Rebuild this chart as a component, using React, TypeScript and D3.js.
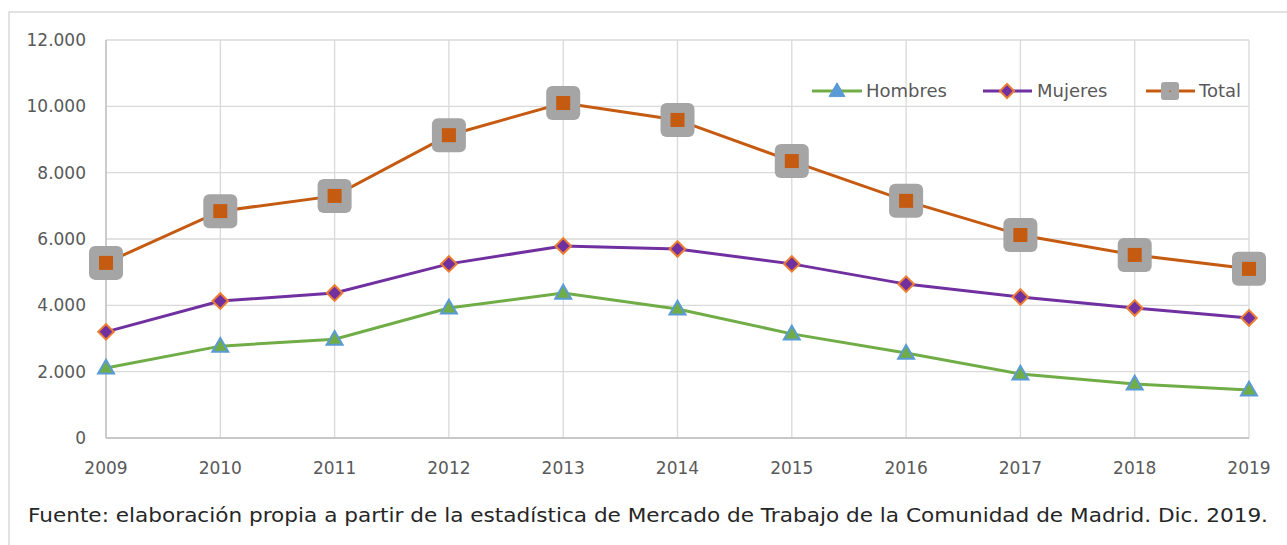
import React from 'react';
import * as d3 from 'd3';

const years = [2009, 2010, 2011, 2012, 2013, 2014, 2015, 2016, 2017, 2018, 2019];
const hombres = [2110, 2770, 2980, 3920, 4370, 3890, 3140, 2560, 1930, 1630, 1450];
const mujeres = [3200, 4130, 4370, 5250, 5790, 5700, 5250, 4640, 4250, 3920, 3620];
const total = [5280, 6840, 7300, 9130, 10100, 9590, 8350, 7150, 6120, 5520, 5100];
const yTicks = [0, 2000, 4000, 6000, 8000, 10000, 12000];
const source =
  'Fuente: elaboración propia a partir de la estadística de Mercado de Trabajo de la Comunidad de Madrid. Dic. 2019.';

const width = 1287;
const height = 545;
const font = '"DejaVu Sans", sans-serif';

const fmt = (v: number) => (v === 0 ? '0' : d3.format(',')(v).replace(/,/g, '.'));

const App = () => {
  const x = d3.scalePoint<number>().domain(years).range([106, 1249]);
  const y = d3.scaleLinear().domain([0, 12000]).range([438, 40]);

  const line = d3
    .line<number>()
    .x((_, i) => x(years[i]) as number)
    .y((d) => y(d));

  const tri = d3.symbol().type(d3.symbolTriangle).size(110)() || undefined;

  return (
    <svg
      width={width}
      height={height}
      style={{ position: 'absolute', left: 0, top: 0, background: '#fff' }}
    >
      {/* chart frame */}
      <rect x={9} y={12} width={1300} height={560} fill="none" stroke="#d9d9d9" strokeWidth={1.5} />

      {/* grid */}
      {yTicks.map((t) => (
        <line key={t} x1={106} x2={1249} y1={y(t)} y2={y(t)} stroke="#d9d9d9" strokeWidth={1.3} />
      ))}
      {years.map((yr) => (
        <line key={yr} x1={x(yr)} x2={x(yr)} y1={40} y2={438} stroke="#d9d9d9" strokeWidth={1.3} />
      ))}
      <line x1={106} x2={1249} y1={438} y2={438} stroke="#bfbfbf" strokeWidth={1.3} />
      <line x1={106} x2={106} y1={40} y2={438} stroke="#bfbfbf" strokeWidth={1.3} />

      {/* axis labels */}
      {yTicks.map((t) => (
        <text key={t} x={86} y={y(t)} dy="0.35em" textAnchor="end" fontFamily={font} fontSize={17} fill="#595959">
          {fmt(t)}
        </text>
      ))}
      {years.map((yr) => (
        <text key={yr} x={x(yr)} y={474} textAnchor="middle" fontFamily={font} fontSize={17} fill="#595959">
          {yr}
        </text>
      ))}

      {/* lines */}
      <path d={line(hombres) || undefined} fill="none" stroke="#70ad47" strokeWidth={3} />
      <path d={line(mujeres) || undefined} fill="none" stroke="#7030a0" strokeWidth={3} />
      <path d={line(total) || undefined} fill="none" stroke="#c55a11" strokeWidth={3} />

      {/* markers */}
      {hombres.map((v, i) => (
        <path key={i} d={tri} transform={`translate(${x(years[i])},${y(v) + 1})`} fill="#70ad47" stroke="#5b9bd5" strokeWidth={2} />
      ))}
      {mujeres.map((v, i) => (
        <rect
          key={i}
          x={-5.5}
          y={-5.5}
          width={11}
          height={11}
          transform={`translate(${x(years[i])},${y(v)}) rotate(45)`}
          fill="#7030a0"
          stroke="#ed7d31"
          strokeWidth={2}
        />
      ))}
      {total.map((v, i) => (
        <g key={i} transform={`translate(${x(years[i])},${y(v)})`}>
          <rect x={-17} y={-17} width={34} height={34} rx={6} fill="#a5a5a5" />
          <rect x={-7} y={-7} width={14} height={14} fill="#c55a11" />
        </g>
      ))}

      {/* legend */}
      <g fontFamily={font} fontSize={18} fill="#595959">
        <line x1={812} x2={862} y1={91} y2={91} stroke="#70ad47" strokeWidth={3} />
        <path d={tri} transform="translate(837,92)" fill="#5b9bd5" stroke="#5b9bd5" strokeWidth={1} />
        <text x={866} y={97}>Hombres</text>

        <line x1={983} x2={1032} y1={91} y2={91} stroke="#7030a0" strokeWidth={3} />
        <rect x={-5} y={-5} width={10} height={10} transform="translate(1007,91) rotate(45)" fill="#7030a0" stroke="#ed7d31" strokeWidth={2} />
        <text x={1037} y={97}>Mujeres</text>

        <line x1={1146} x2={1195} y1={91} y2={91} stroke="#c55a11" strokeWidth={3} />
        <rect x={1161} y={82} width={18} height={18} rx={3} fill="#a5a5a5" />
        <rect x={1169.5} y={90.5} width={1.5} height={1.5} fill="#c55a11" />
        <text x={1199} y={97}>Total</text>
      </g>

      {/* source */}
      <text x={28} y={522} fontFamily={font} fontSize={19} fill="#262626" textLength={1240} lengthAdjust="spacingAndGlyphs">
        {source}
      </text>
    </svg>
  );
};

export default App;
